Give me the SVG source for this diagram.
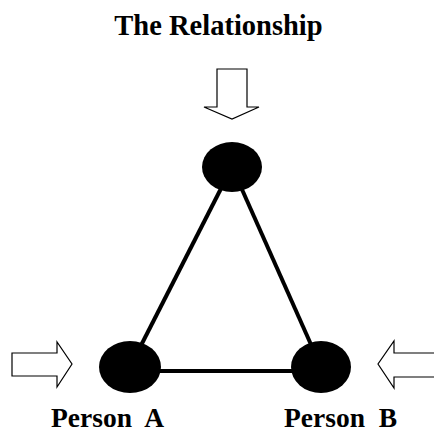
<svg xmlns="http://www.w3.org/2000/svg" width="434" height="434" viewBox="0 0 434 434">
<style>
.lbl{font-family:"Liberation Serif","Times New Roman",serif;font-weight:bold;fill:#000}
.arrow{fill:#fff;stroke:#000;stroke-width:1.2;stroke-linejoin:miter}
.node{fill:#000}
.edge{stroke:#000;stroke-width:4;fill:none}
</style>
<rect width="434" height="434" fill="#fff"/>
<text class="lbl" x="218.5" y="35" font-size="28.5" text-anchor="middle">The Relationship</text>
<g id="connectors">
<line class="edge" x1="232" y1="167" x2="130" y2="367"/>
<line class="edge" x1="232" y1="167" x2="321" y2="367"/>
<line class="edge" x1="130" y1="371" x2="321" y2="371"/>
</g>
<g id="arrow-top"><polygon class="arrow" points="217,69 247,69 247,107 259,107 232,119 204,107 217,107"/></g>
<g id="arrow-left"><polygon class="arrow" points="12,353 57,353 57,342 72,364 57,387 57,376 12,376"/></g>
<g id="arrow-right"><polygon class="arrow" points="435,353 394,353 394,341 378,364 394,388 394,377 435,377"/></g>
<g id="node-top"><ellipse class="node" cx="232" cy="167" rx="30" ry="25"/></g>
<g id="node-a"><ellipse class="node" cx="130" cy="367" rx="31" ry="26"/><text class="lbl" x="107.5" y="427" font-size="27.5" text-anchor="middle" xml:space="preserve">Person  A</text></g>
<g id="node-b"><ellipse class="node" cx="321" cy="367" rx="30" ry="26"/><text class="lbl" x="340.5" y="427" font-size="27.5" text-anchor="middle" xml:space="preserve">Person  B</text></g>
</svg>
